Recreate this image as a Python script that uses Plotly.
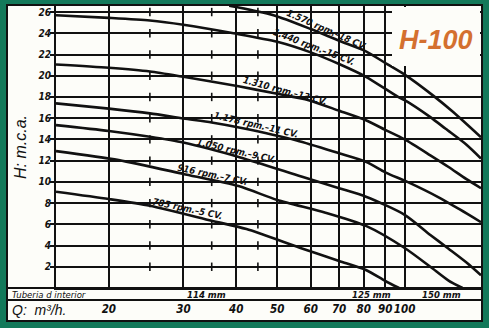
import math
import plotly.graph_objects as go

# ---------------- data ----------------
Q_1570 = [38.5, 49, 60, 70, 81, 90, 100, 117, 130, 151.5]
H_1570 = [26.6, 25.7, 24.4, 23.3, 22.3, 21.2, 20.1, 18.1, 16.6, 14.2]

Q_1440 = [15, 20, 25, 30, 39.4, 50, 60, 70, 81, 96.5, 100, 115, 125, 140, 151.5]
H_1440 = [25.7, 25.45, 25.2, 24.8, 24.0, 23.2, 22.2, 21.1, 19.9, 18.0, 17.7, 16.1, 15.0, 13.5, 12.2]

Q_1310 = [15, 20, 25, 30, 40.5, 50, 59.3, 70, 81, 90, 100, 115, 127, 140, 151.5]
H_1310 = [21.06, 20.75, 20.4, 19.9, 19.0, 18.3, 17.7, 16.7, 15.8, 14.9, 14.0, 12.5, 11.4, 10.25, 9.4]

Q_1178 = [15, 20, 25, 30, 35, 40.9, 55.6, 70, 81, 90, 101.5, 120, 135, 151.5]
H_1178 = [17.4, 16.9, 16.45, 15.97, 15.6, 15.1, 13.9, 12.7, 11.9, 10.9, 10.0, 8.57, 7.4, 6.2]

Q_1050 = [15, 20, 25, 30, 40.9, 57, 70, 81, 100, 115, 127, 140, 151.5]
H_1050 = [15.35, 14.8, 14.25, 13.7, 12.3, 10.5, 9.4, 8.6, 6.9, 5.0, 3.7, 2.4, 1.2]

Q_916 = [15, 21.1, 30, 40.5, 50, 65, 81, 100, 115, 127, 137]
H_916 = [12.9, 12.05, 10.75, 9.6, 8.3, 7.1, 5.85, 3.77, 2.0, 0.7, 0.0]

Q_785 = [15, 20, 25, 35, 42.3, 56.5, 70, 81, 90, 97]
H_785 = [9.07, 8.38, 7.75, 6.34, 5.55, 3.8, 2.55, 1.7, 0.66, 0.0]

SERIES = [
    ("1.570 rpm.–18 CV.", Q_1570, H_1570),
    ("1.440 rpm.–15 CV.", Q_1440, H_1440),
    ("1.310 rpm.–13 CV.", Q_1310, H_1310),
    ("1.178 rpm.–11 CV.", Q_1178, H_1178),
    ("1.050 rpm.–9 CV.", Q_1050, H_1050),
    ("916 rpm.–7 CV.", Q_916, H_916),
    ("785 rpm.–5 CV.", Q_785, H_785),
]

# label anchor (Q, H) and angle per curve
LABEL_Q = [65.5, 61.0, 52.1, 44.5, 39.9, 35.2, 30.7]
LABEL_H = [24.4, 22.8, 18.65, 15.4, 13.0, 10.7, 7.5]
LABEL_ANGLE = [24, 21, 15, 13, 13, 12, 12]

X_TICKS = [20, 30, 40, 50, 60, 70, 80, 90, 100]
X_TICK_TEXT = ["20", "30", "40", "50", "60", "70", "80", "90", "100"]
Y_TICKS = [2, 4, 6, 8, 10, 12, 14, 16, 18, 20, 22, 24, 26]
MINOR_Q = [25, 35, 45]

PIPE_LABELS = ["114 mm", "125 mm", "150 mm"]
PIPE_Q = [34.0, 83.5, 122.0]
PIPE_BREAKS = [70, 100]

Q_MIN, Q_MAX = 15, 151.5
H_MAX = 26.57

# ---------------- figure ----------------
GREEN = "#13795a"
PANEL = "#fdfdf9"
INK = "#111111"
LABEL_FONT = "DejaVu Sans Condensed, DejaVu Sans, Liberation Sans, sans-serif"

fig = go.Figure()

for name, q, h in SERIES:
    fig.add_trace(go.Scatter(
        x=q, y=h, mode="lines", name=name,
        line=dict(color=INK, width=2.6, shape="spline", smoothing=0.7),
        hoverinfo="skip", showlegend=False, cliponaxis=True,
    ))

# small dash marks on the horizontal grid at intermediate flows
mq, mh = [], []
for q in MINOR_Q:
    for h in Y_TICKS:
        mq.append(q)
        mh.append(h)
fig.add_trace(go.Scatter(
    x=mq, y=mh, mode="markers", showlegend=False, hoverinfo="skip",
    marker=dict(symbol="line-ns", size=6, line=dict(color=INK, width=1.6)),
))

for (name, _, _), lq, lh, ang in zip(SERIES, LABEL_Q, LABEL_H, LABEL_ANGLE):
    fig.add_annotation(
        x=math.log10(lq), y=lh, xref="x", yref="y", text=name, showarrow=False,
        textangle=ang, xanchor="center", yanchor="middle",
        font=dict(family=LABEL_FONT, size=9.5, color=INK, style="italic", weight="bold"),
    )

W, H = 489, 328
ML, MR, MT, MB = 56, 8, 6, 40
PW, PH = W - ML - MR, H - MT - MB


def px_x(px):
    return (px - ML) / PW


def px_y(py):
    return (H - MB - py) / PH


shapes = []
# white panel with dark border
shapes.append(dict(type="rect", xref="paper", yref="paper",
                   x0=px_x(7), x1=px_x(482), y0=px_y(321), y1=px_y(5),
                   fillcolor=PANEL, line=dict(color=INK, width=2), layer="below"))
# blank box for the model name (covers the grid in the top-right corner)
shapes.append(dict(type="rect", xref="paper", yref="paper",
                   x0=px_x(392), x1=px_x(480), y0=px_y(66), y1=px_y(7),
                   fillcolor=PANEL, line=dict(width=0), layer="above"))
# pipe row lines
shapes.append(dict(type="line", xref="paper", yref="paper",
                   x0=px_x(7), x1=1.0, y0=0, y1=0, line=dict(color=INK, width=2)))
shapes.append(dict(type="line", xref="paper", yref="paper",
                   x0=px_x(7), x1=px_x(482), y0=px_y(300), y1=px_y(300),
                   line=dict(color=INK, width=2)))
for b in PIPE_BREAKS:
    shapes.append(dict(type="line", xref="x", yref="paper",
                       x0=math.log10(b), x1=math.log10(b), y0=0, y1=px_y(300),
                       line=dict(color=INK, width=1.8)))
fig.update_layout(shapes=shapes)

fig.add_annotation(x=px_x(10), y=px_y(294), xref="paper", yref="paper",
                   text="Tuberia d interior", showarrow=False,
                   xanchor="left", yanchor="middle",
                   font=dict(family=LABEL_FONT, size=9.5, color=INK, style="italic"))
for lab, q in zip(PIPE_LABELS, PIPE_Q):
    fig.add_annotation(x=math.log10(q), y=px_y(294), xref="x", yref="paper",
                       text=lab, showarrow=False, xanchor="center", yanchor="middle",
                       font=dict(family=LABEL_FONT, size=9.5, color=INK,
                                 style="italic", weight="bold"))
fig.add_annotation(x=px_x(10), y=px_y(310), xref="paper", yref="paper",
                   text="Q:  m³/h.", showarrow=False, xanchor="left", yanchor="middle",
                   font=dict(family="Liberation Sans, sans-serif", size=14,
                             color=INK, style="italic"))
fig.add_annotation(x=px_x(436), y=px_y(40), xref="paper", yref="paper",
                   text="H-100", showarrow=False, xanchor="center", yanchor="middle",
                   font=dict(family="Liberation Sans, Arial, sans-serif", size=27,
                             color="#d4702f", style="italic", weight="bold"))

fig.update_xaxes(
    type="log", range=[math.log10(Q_MIN), math.log10(Q_MAX)],
    tickvals=X_TICKS, ticktext=X_TICK_TEXT, ticks="", tickangle=0,
    showgrid=True, gridcolor=INK, gridwidth=1.7,
    showline=True, linecolor=INK, linewidth=2, mirror=True,
    zeroline=False, ticklabelstandoff=9,
    tickfont=dict(family=LABEL_FONT, size=11.5, color=INK, style="italic", weight="bold"),
)
fig.update_yaxes(
    range=[0, H_MAX], tickvals=Y_TICKS, ticks="outside", ticklen=4,
    tickwidth=1.5, tickcolor=INK, ticklabelstandoff=-3,
    showgrid=True, gridcolor=INK, gridwidth=1.7,
    showline=True, linecolor=INK, linewidth=2, mirror=True, zeroline=False,
    tickfont=dict(family=LABEL_FONT, size=10, color=INK, style="italic", weight="bold"),
    title=dict(text="H: m.c.a.", standoff=8,
               font=dict(family="Liberation Sans, sans-serif", size=16,
                         color=INK, style="italic")),
)
fig.update_layout(
    width=W, height=H, autosize=False,
    margin=dict(l=ML, r=MR, t=MT, b=MB, autoexpand=False),
    paper_bgcolor=GREEN, plot_bgcolor=PANEL, showlegend=False,
)

fig.write_html("out.html")
